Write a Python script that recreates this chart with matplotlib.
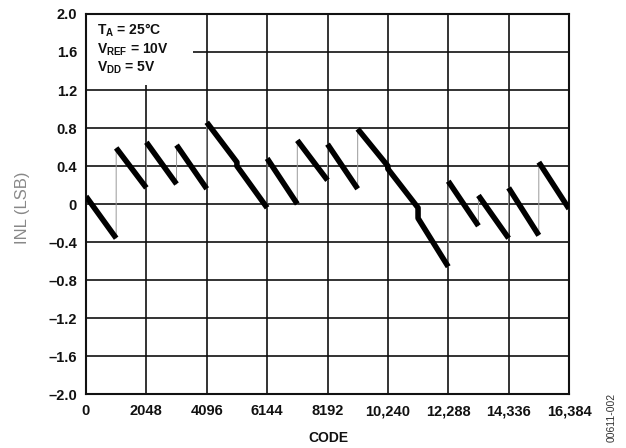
import matplotlib
matplotlib.use("Agg")
import matplotlib.pyplot as plt
import numpy as np

plt.rcParams['font.family'] = ['Liberation Sans', 'DejaVu Sans']
plt.rcParams['mathtext.fontset'] = 'custom'
plt.rcParams['mathtext.rm'] = 'Liberation Sans:bold'
plt.rcParams['mathtext.bf'] = 'Liberation Sans:bold'

# ---- data (code, INL in LSB) ----
code = [0, 1023,
        1024, 2047,
        2048, 3071,
        3072, 4095,
        4096, 5119, 5120, 6143,
        6144, 7167,
        7168, 8191,
        8192, 9215,
        9216, 10239, 10240, 11263, 11264, 12287,
        12288, 13311,
        13312, 14335,
        14336, 15359,
        15360, 16383]
inl = [0.08, -0.36,
       0.59, 0.17,
       0.65, 0.21,
       0.62, 0.16,
       0.86, 0.44, 0.40, -0.04,
       0.48, 0.00,
       0.67, 0.25,
       0.63, 0.16,
       0.79, 0.40, 0.37, -0.04, -0.15, -0.66,
       0.24, -0.23,
       0.09, -0.36,
       0.17, -0.33,
       0.44, -0.05]
major_jumps = [1024, 2048, 3072, 4096, 6144, 7168, 8192, 9216,
               12288, 13312, 14336, 15360]

xticks = [0, 2048, 4096, 6144, 8192, 10240, 12288, 14336, 16384]
xticklabels = ["0", "2048", "4096", "6144", "8192", "10,240", "12,288",
               "14,336", "16,384"]
yticks = [-2.0, -1.6, -1.2, -0.8, -0.4, 0, 0.4, 0.8, 1.2, 1.6, 2.0]
yticklabels = ["\u20132.0", "\u20131.6", "\u20131.2", "\u20130.8", "\u20130.4",
               "0", "0.4", "0.8", "1.2", "1.6", "2.0"]
conditions = [r"T$_\mathregular{A}$ = 25°C",
              r"V$_\mathregular{REF}$ = 10V",
              r"V$_\mathregular{DD}$ = 5V"]

fig = plt.figure(figsize=(6.26, 4.48), dpi=100)
ax = fig.add_axes([86/626, 1-394/448, (569-86)/626, (394-14)/448])

code_a = np.array(code)
inl_a = np.array(inl)
# thin connector through every point (visible at the jumps)
ax.plot(code_a, inl_a, color='#999999', lw=0.7, zorder=3)
# thick segments between the major jumps
bounds = [0] + major_jumps + [16384]
for lo, hi in zip(bounds[:-1], bounds[1:]):
    m = (code_a >= lo) & (code_a < hi)
    ax.plot(code_a[m], inl_a[m], color='black', lw=4.0,
            solid_capstyle='butt', zorder=4)

ax.set_xlim(0, 16384)
ax.set_ylim(-2.0, 2.0)
ax.set_xticks(xticks)
ax.set_xticklabels(xticklabels)
ax.set_yticks(yticks)
ax.set_yticklabels(yticklabels)
ax.tick_params(axis='x', length=0, labelsize=10.5, pad=7.5, colors='#111111')
ax.tick_params(axis='y', length=0, labelsize=10.5, pad=6.5, colors='#111111')
for lab in ax.get_xticklabels() + ax.get_yticklabels():
    lab.set_fontweight('bold')
ax.grid(True, color='#111111', lw=1.2)
ax.set_axisbelow(True)
for s in ax.spines.values():
    s.set_linewidth(1.5)
    s.set_color('#111111')

# white box behind the conditions text
ax.add_patch(plt.Rectangle((0, 0.813), 0.2215, 0.187, transform=ax.transAxes,
                           facecolor='white', edgecolor='none', zorder=1.5))
for t, yb in zip(conditions, [35, 54, 72]):
    ax.text(97/626, 1 - yb/448, t, transform=fig.transFigure,
            fontsize=10, fontweight='bold', va='baseline', ha='left',
            color='#111111', zorder=5)

fig.text(23/626, 1-208/448, "INL (LSB)", rotation=90, fontsize=12,
         color='#888888', ha='center', va='center')
fig.text(328/626, 1-438/448, "CODE", fontsize=10, fontweight='bold',
         color='#111111', ha='center', va='center')
fig.text(612/626, 1-417/448, "00611-002", rotation=90, fontsize=7.5,
         color='#333333', ha='center', va='center')

fig.savefig("out.png", dpi=100)
